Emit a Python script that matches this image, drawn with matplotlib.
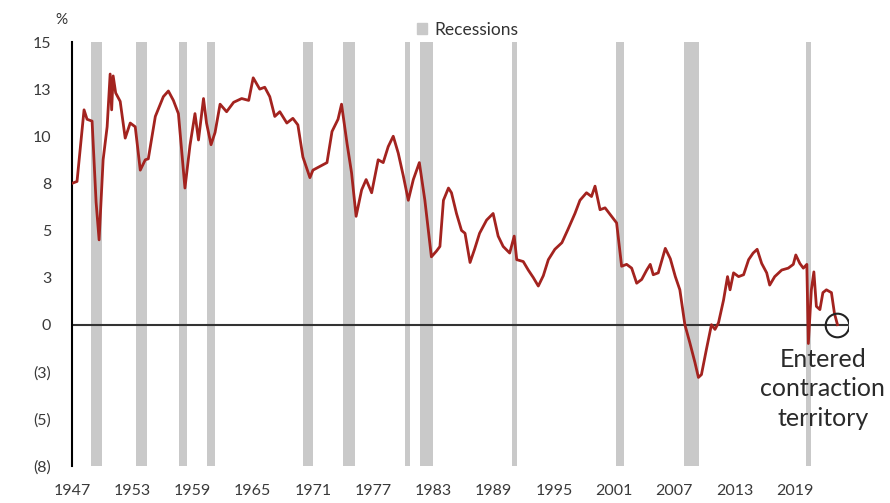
import matplotlib
matplotlib.use('Agg')
import matplotlib.pyplot as plt
from matplotlib.patches import Patch

plt.rcParams['font.family'] = ['Lato', 'DejaVu Sans']

# series (year, %)
years = [1947.0, 1947.5, 1948.2, 1948.5, 1949.0, 1949.4, 1949.7, 1950.1, 1950.5, 1950.8,
         1950.95, 1951.1, 1951.35, 1951.8, 1952.3, 1952.8, 1953.3, 1953.8, 1954.3, 1954.6,
         1955.3, 1956.1, 1956.6, 1957.1, 1957.6, 1958.25, 1958.75, 1959.25, 1959.6, 1960.1,
         1960.4, 1960.85, 1961.25, 1961.75, 1962.4, 1963.1, 1963.9, 1964.6, 1965.05, 1965.7,
         1966.2, 1966.7, 1967.2, 1967.7, 1968.4, 1969.0, 1969.5, 1970.0, 1970.7, 1971.0,
         1971.7, 1972.4, 1972.9, 1973.5, 1973.85, 1974.4, 1974.85, 1975.3, 1975.85, 1976.3,
         1976.85, 1977.5, 1978.0, 1978.5, 1979.0, 1979.5, 1980.0, 1980.5, 1981.0, 1981.6,
         1982.15, 1982.5, 1982.8, 1983.3, 1983.65, 1984.0, 1984.5, 1984.8, 1985.3, 1985.8,
         1986.15, 1986.65, 1987.1, 1987.6, 1988.3, 1988.95, 1989.45, 1989.95, 1990.6, 1991.05,
         1991.3, 1991.95, 1992.45, 1992.95, 1993.45, 1993.95, 1994.45, 1995.1, 1995.8, 1996.4,
         1997.1, 1997.6, 1998.25, 1998.75, 1999.1, 1999.6, 2000.1, 2000.6, 2001.25, 2001.75,
         2002.25, 2002.75, 2003.25, 2003.75, 2004.25, 2004.6, 2004.9, 2005.4, 2006.1, 2006.6,
         2007.1, 2007.55, 2008.05, 2008.55, 2009.05, 2009.4, 2009.7, 2010.2, 2010.7, 2011.05,
         2011.4, 2011.9, 2012.3, 2012.55, 2012.9, 2013.4, 2013.9, 2014.4, 2014.85, 2015.25,
         2015.7, 2016.2, 2016.5, 2017.0, 2017.7, 2018.35, 2018.85, 2019.1, 2019.5, 2019.85,
         2020.2, 2020.35, 2020.65, 2020.9, 2021.15, 2021.5, 2021.8, 2022.15, 2022.65, 2022.95,
         2023.25]
values = [7.5, 7.6, 11.4, 10.9, 10.8, 6.5, 4.5, 8.75, 10.5, 13.3,
          11.4, 13.2, 12.3, 11.85, 9.9, 10.7, 10.5, 8.2, 8.75, 8.8,
          11.05, 12.1, 12.4, 11.9, 11.2, 7.25, 9.5, 11.2, 9.8, 12.0,
          10.7, 9.55, 10.2, 11.7, 11.3, 11.8, 12.0, 11.9, 13.1, 12.5,
          12.6, 12.1, 11.05, 11.3, 10.7, 10.95, 10.6, 8.9, 7.8, 8.2,
          8.4, 8.6, 10.25, 10.9, 11.7, 9.6, 8.05, 5.75, 7.15, 7.7,
          7.0, 8.75, 8.6, 9.45, 10.0, 9.1, 7.9, 6.6, 7.7, 8.6,
          6.6, 5.0, 3.6, 3.9, 4.15, 6.6, 7.25, 7.0, 5.9, 5.0,
          4.85, 3.3, 4.0, 4.85, 5.55, 5.9, 4.7, 4.15, 3.8, 4.7,
          3.45, 3.35, 2.9, 2.5, 2.05, 2.6, 3.45, 4.0, 4.35, 5.05,
          5.9, 6.6, 7.0, 6.8, 7.35, 6.1, 6.2, 5.85, 5.4, 3.1,
          3.2, 3.0, 2.2, 2.4, 2.9, 3.2, 2.65, 2.75, 4.05, 3.5,
          2.55, 1.85, 0.0, -0.97, -2.0, -2.8, -2.65, -1.3, 0.0, -0.25,
          0.1, 1.3, 2.55, 1.85, 2.75, 2.55, 2.65, 3.45, 3.8, 4.0,
          3.25, 2.75, 2.1, 2.55, 2.9, 3.0, 3.2, 3.7, 3.25, 3.0,
          3.2, -1.0, 1.85, 2.8, 0.97, 0.8, 1.7, 1.85, 1.7, 0.6,
          0.0]

rec_start = [1948.9, 1953.4, 1957.65, 1960.4, 1970.0, 1973.95, 1980.2, 1981.7, 1990.8, 2001.2, 2008.0, 2020.1]
rec_end = [1949.95, 1954.5, 1958.5, 1961.2, 1971.0, 1975.2, 1980.7, 1983.0, 1991.3, 2001.95, 2009.5, 2020.6]

xticks = list(range(1947, 2020, 6))
yticks = [15, 12.5, 10, 7.5, 5, 2.5, 0, -2.5, -5, -7.5]
ylabels = ['15', '13', '10', '8', '5', '3', '0', '(3)', '(5)', '(8)']

fig = plt.figure(figsize=(8.9, 5.03), dpi=100)
ax = fig.add_axes([72/890, 37/503, 776/890, 424/503])

for s, e in zip(rec_start, rec_end):
    ax.axvspan(s, e, color='#c9c9c9', lw=0, zorder=0)

ax.axhline(0, color='#333333', lw=1.5, zorder=1)
ax.plot(years, values, color='#a3231f', lw=2, zorder=3)
ax.plot(years[-1], values[-1], 'o', ms=17, mfc='none', mec='#222222', mew=1.5, zorder=4)
ax.text(2021.8, -3.4, 'Entered\ncontraction\nterritory', ha='center', va='center',
        fontsize=18, color='#2a2a2a', linespacing=1.35)

ax.set_xlim(1947, 2024.3)
ax.set_ylim(-7.5, 15)
ax.set_xticks(xticks)
ax.set_yticks(yticks)
ax.set_yticklabels(ylabels)
ax.tick_params(length=0, labelsize=11.5, colors='#3a3a3a')
ax.tick_params(axis='y', pad=15)
ax.tick_params(axis='x', pad=13)
for side in ['top', 'right', 'bottom']:
    ax.spines[side].set_visible(False)
ax.spines['left'].set_color('black')
ax.spines['left'].set_linewidth(1.5)

fig.text(61/890, 1 - 20/503, '%', ha='center', va='center', fontsize=11, color='#333333')

ax.legend(handles=[Patch(color='#c9c9c9', label='Recessions')], loc='center left',
          bbox_to_anchor=(417/890, 1 - 30/503), bbox_transform=fig.transFigure,
          frameon=False, handlelength=0.6, handleheight=0.6, handletextpad=0.4,
          fontsize=12.5, labelcolor='#333333', borderaxespad=0, borderpad=0)

fig.savefig('out.png', dpi=100)
